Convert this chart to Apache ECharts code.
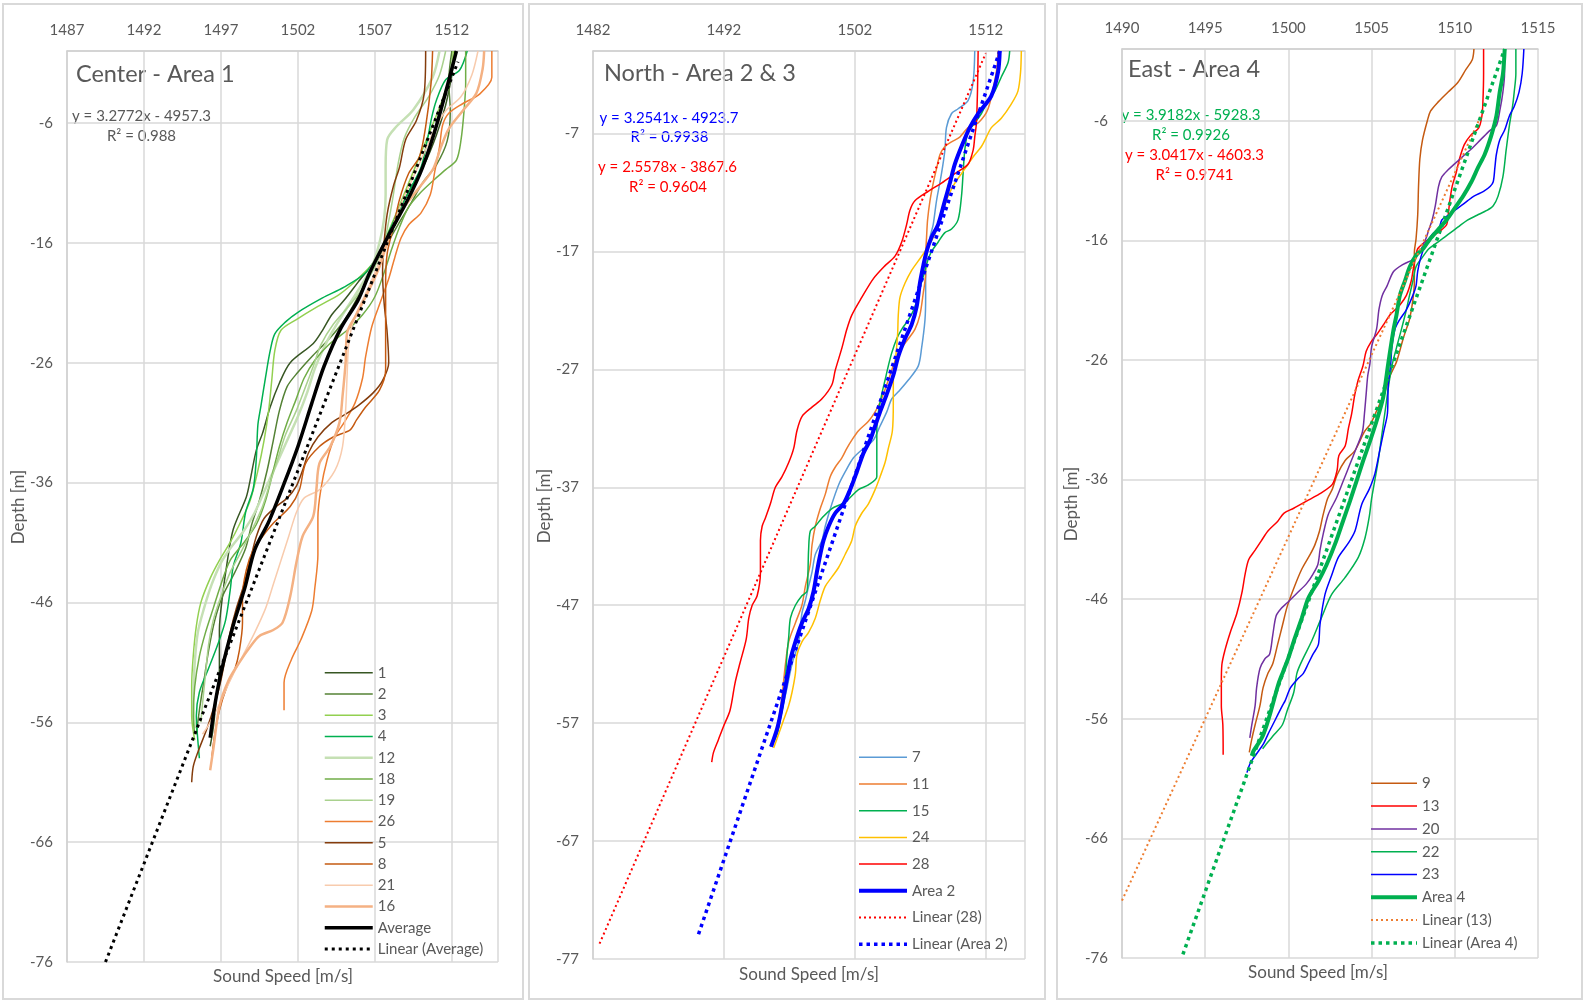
<!DOCTYPE html>
<html><head><meta charset="utf-8">
<script src="https://cdn.jsdelivr.net/npm/echarts@6/dist/echarts.min.js"></script>
<style>html,body{margin:0;padding:0;background:#fff}#c{width:1585px;height:1002px}</style>
</head><body><div id="c"></div>
<script>
// ---------- axis ranges [min, max, interval] ----------
const p1X = [1487, 1515, 5], p1Y = [-76, 0, 10];
const p2X = [1482, 1515, 10], p2Y = [-77, 0, 10];
const p3X = [1490, 1515, 5], p3Y = [-76, 0, 10];

// ---------- Panel 1 : Center - Area 1  ([speed, depth]) ----------
const c1 = [[1512.2,0],[1512.0,-2],[1511.6,-4.5],[1511.0,-7],[1510.2,-9.5],[1509.3,-11.5],[1508.5,-13.5],[1507.8,-15.5],[1507.0,-17.5],[1505.9,-19.3],[1505.0,-20.8],[1504.2,-22],[1503.6,-23.3],[1503.0,-24.4],[1501.5,-26],[1500.8,-27.7],[1500.2,-29.7],[1499.7,-31.9],[1499.3,-33.3],[1498.9,-35.8],[1498.65,-37.2],[1497.8,-39.9],[1497.4,-42.7],[1497.1,-45.5],[1496.9,-48.3],[1496.9,-51.6],[1496.7,-54],[1496.5,-56.5],[1496.3,-58]];
const c2 = [[1512.0,0],[1511.8,-2.5],[1511.9,-5],[1511.7,-7.5],[1511.0,-9.5],[1510.1,-11],[1509.3,-12.8],[1508.5,-14.5],[1507.6,-16.5],[1506.7,-18.5],[1505.9,-20.5],[1505.0,-22.5],[1503.9,-24.2],[1502.9,-25.5],[1502.0,-26.8],[1501.3,-28],[1500.8,-30],[1500.4,-32.5],[1500.0,-35],[1499.5,-37.5],[1499.0,-39.5],[1498.6,-41.5],[1497.9,-43.5],[1497.1,-45.5],[1496.6,-47.5],[1496.2,-50],[1495.9,-52.5],[1495.6,-55],[1495.4,-57]];
const c3 = [[1512.1,0],[1511.9,-2],[1511.4,-4],[1510.8,-6],[1510.0,-8.5],[1509.2,-11],[1508.5,-13.2],[1507.8,-15.3],[1507.0,-17.5],[1505.9,-19],[1504.7,-20.3],[1503.3,-21.3],[1501.9,-22.4],[1500.9,-23.3],[1500.5,-25],[1500.3,-27.5],[1500.1,-30],[1499.8,-32.5],[1499.4,-35],[1498.9,-37.5],[1498.2,-39.5],[1497.6,-41],[1496.9,-42.5],[1496.3,-44],[1495.7,-46],[1495.4,-48],[1495.2,-50.5],[1495.1,-53],[1495.1,-55.5],[1495.3,-57.5]];
const c4 = [[1513.0,0],[1512.5,-1.6],[1511.6,-2.4],[1511.0,-4.1],[1510.7,-5.5],[1510.4,-7.5],[1510.0,-9.7],[1509.3,-11.5],[1508.5,-13.5],[1507.9,-15.1],[1507.3,-16.8],[1506.4,-18.5],[1505.0,-19.7],[1503.6,-20.6],[1502.0,-21.8],[1501.2,-22.6],[1500.5,-23.6],[1500.2,-25],[1499.9,-27.2],[1499.6,-29.6],[1499.4,-31.2],[1499.3,-34],[1499.1,-36.5],[1498.6,-38.5],[1498.3,-41],[1497.8,-43],[1497.6,-45],[1497.3,-47.5],[1496.8,-49.5],[1496.2,-51.5],[1495.6,-53.5],[1495.4,-55.5],[1495.5,-57.5],[1495.6,-59]];
const c12 = [[1511.2,0],[1510.75,-2.2],[1509.5,-4.9],[1508.4,-6.3],[1507.8,-7.4],[1507.7,-9.7],[1507.7,-12],[1507.6,-14],[1507.3,-16],[1506.8,-18],[1505.9,-20],[1505.0,-21.8],[1504.2,-23.5],[1503.6,-25],[1503.1,-26.5],[1502.6,-28.5],[1502.0,-30.5],[1501.3,-32.5],[1500.6,-34.5],[1499.9,-36.5],[1499.2,-38.5],[1498.5,-40],[1497.6,-41.5],[1497.0,-42.7],[1496.4,-44.5],[1495.9,-46.5],[1495.5,-48.5],[1495.3,-51],[1495.2,-54],[1495.3,-56.5]];
const c18 = [[1512.9,0],[1512.9,-2.7],[1512.8,-4.9],[1512.6,-7.4],[1512.3,-9.1],[1511.6,-9.9],[1510.8,-10.8],[1509.9,-11.9],[1509.2,-13],[1508.6,-14.7],[1508.1,-16.5],[1507.6,-18.5],[1507.0,-20.5],[1506.2,-22],[1505.2,-23.3],[1504.0,-24.5],[1503.1,-25.8],[1502.4,-27.3],[1501.9,-29],[1501.3,-31],[1500.8,-33],[1500.4,-35],[1499.9,-37.5],[1499.3,-39.5],[1498.5,-41],[1497.6,-42.5],[1497.0,-44.5],[1496.5,-46.5],[1496.0,-48.5],[1495.6,-50.5],[1495.3,-53],[1495.2,-55.5],[1495.3,-57]];
const c19 = [[1511.6,0],[1511.2,-2],[1510.5,-3.8],[1509.6,-5.5],[1508.9,-7.3],[1508.5,-9.5],[1508.2,-12],[1507.9,-14.2],[1507.6,-16],[1507.0,-18],[1506.2,-19.8],[1505.3,-21.3],[1504.3,-22.8],[1503.5,-24.5],[1503.0,-26.3],[1502.5,-28],[1501.9,-30],[1501.2,-32],[1500.7,-34],[1500.2,-36],[1499.7,-38],[1499.0,-40],[1498.3,-41.8],[1497.6,-43.5],[1497.0,-45.5],[1496.5,-47.5],[1496.2,-49.5],[1496.0,-52],[1495.8,-54.5],[1495.7,-56]];
const c26 = [[1514.6,0],[1514.6,-2.2],[1513.8,-3.6],[1512.7,-4.4],[1511.8,-5.2],[1511.4,-6.2],[1511.2,-8],[1510.9,-10],[1510.6,-12],[1510.0,-13.5],[1509.2,-14.5],[1508.7,-15.6],[1508.3,-17.2],[1507.9,-19],[1507.4,-20.8],[1506.8,-23],[1506.4,-25.5],[1506.2,-27.3],[1505.7,-29.4],[1505.0,-31],[1504.4,-32.2],[1503.9,-34.1],[1503.5,-36.5],[1503.3,-38.9],[1503.3,-42],[1503.1,-44.8],[1502.9,-46.7],[1502.2,-49.1],[1501.6,-50.7],[1501.1,-52.7],[1501.1,-55]];
const c5 = [[1510.3,0],[1510.2,-3.6],[1509.7,-5.8],[1509.0,-7.4],[1508.6,-9.7],[1508.2,-11.3],[1507.8,-13.6],[1507.6,-16],[1507.5,-18.5],[1507.6,-21],[1507.8,-23.5],[1507.9,-26],[1507.5,-27.5],[1506.9,-28.5],[1506.0,-29.5],[1505.1,-30.3],[1504.2,-31],[1503.3,-32.2],[1502.7,-33.5],[1502.3,-35],[1501.9,-36.3],[1501.3,-37.3],[1500.6,-38],[1499.8,-39],[1499.3,-40.5],[1498.9,-42.5],[1498.5,-44.5],[1498.0,-46.5],[1497.6,-48.5],[1497.3,-50.5],[1497.0,-52.5],[1496.6,-54.5],[1496.1,-56.5],[1495.5,-58.5],[1495.2,-59.7],[1495.1,-61]];
const c8 = [[1510.75,0],[1510.65,-2.7],[1510.3,-6.3],[1509.9,-8.8],[1509.2,-10.2],[1508.6,-12.4],[1508.2,-14.7],[1507.8,-16.9],[1507.7,-19.4],[1507.7,-24.1],[1507.7,-26.6],[1507.3,-28.3],[1506.4,-29.7],[1505.8,-30.8],[1505.4,-31.6],[1504.3,-32.2],[1503.4,-33],[1502.5,-34.4],[1502.1,-36.6],[1501.5,-38],[1500.4,-39.4],[1499.7,-40.5],[1499.1,-41.6],[1498.65,-43.3],[1498.4,-45.5],[1498.4,-47.7],[1498.2,-50],[1497.9,-51.6],[1497.4,-53],[1496.9,-55],[1496.6,-57],[1496.4,-59]];
const c21 = [[1513.7,0],[1513.3,-2],[1512.6,-3.8],[1511.6,-5],[1510.9,-6.5],[1510.2,-8.5],[1509.5,-10.5],[1508.8,-12.5],[1508.2,-14.5],[1507.6,-16.5],[1507.0,-18.5],[1506.3,-20.5],[1505.6,-22.5],[1505.3,-24.5],[1505.2,-27],[1505.1,-30],[1504.9,-33],[1504.4,-35],[1503.4,-36.6],[1502.4,-37.3],[1501.9,-38.5],[1501.4,-40.5],[1500.9,-42.5],[1500.4,-44.5],[1499.9,-46.5],[1499.2,-48.5],[1498.4,-50.5],[1497.6,-52.5],[1496.9,-54.5],[1496.3,-56],[1495.8,-57]];
const c16 = [[1514.1,0],[1514.0,-1.5],[1513.6,-3.5],[1512.7,-5],[1511.8,-6.5],[1511.3,-8],[1510.8,-9.8],[1510.0,-11.2],[1509.2,-12.5],[1508.4,-14],[1507.8,-16],[1507.3,-18],[1506.6,-20],[1505.8,-22],[1505.2,-23.5],[1505.1,-26],[1504.9,-28.8],[1504.7,-31],[1504.1,-33],[1503.4,-34.4],[1503.2,-36.6],[1503.0,-38.8],[1502.3,-40.5],[1501.9,-42.7],[1501.5,-45.5],[1501.0,-47.7],[1500.4,-48.3],[1499.5,-48.8],[1498.9,-49.7],[1498.2,-51],[1497.5,-52.5],[1496.9,-54.7],[1496.5,-58.3],[1496.3,-60]];
const cAvg = [[1512.3,0],[1511.05,-6],[1510.1,-9.7],[1509.1,-12.5],[1507.8,-15.6],[1506.7,-18.4],[1505.9,-20.8],[1504.8,-23.1],[1503.7,-26.3],[1502.9,-29.4],[1502.0,-33],[1501.1,-36.1],[1500.1,-39.3],[1499.2,-41.6],[1498.55,-44.8],[1497.8,-47.9],[1497.0,-51.9],[1496.6,-54.6],[1496.3,-57.3]];
const cAvgTrend = [[1489.5,-76],[1512.4,-0.9]];

// ---------- Panel 2 : North - Area 2 & 3 ----------
const n7 = [[1511.16,0],[1511.04,-2.6],[1510.65,-4.2],[1509.89,-4.9],[1509.39,-5.3],[1509.0,-6.5],[1508.88,-8.4],[1508.62,-10.4],[1508.24,-12.7],[1507.99,-14.7],[1507.74,-15.8],[1507.56,-17],[1507.41,-18.2],[1507.41,-20.9],[1507.36,-22.8],[1507.1,-25.2],[1506.85,-26.7],[1506.09,-27.9],[1505.32,-28.9],[1504.82,-29.5],[1504.44,-30.6],[1503.93,-31.8],[1503.42,-33],[1502.66,-33.7],[1501.9,-34.5],[1501.26,-35.7],[1500.76,-36.8],[1500.25,-38.4],[1499.74,-40.3],[1499.49,-41.5],[1498.98,-42.7],[1498.73,-44.2],[1498.47,-45.4],[1498.22,-46.6],[1497.96,-47.7],[1497.71,-50.1],[1497.2,-52],[1496.82,-54],[1496.44,-55.9],[1496.06,-57.9],[1495.8,-58.6]];
const n11 = [[1512.94,0],[1512.81,-1.8],[1512.18,-4.9],[1511.42,-6.1],[1510.65,-6.5],[1510.02,-7.3],[1509.39,-7.7],[1508.88,-8.1],[1508.5,-8.8],[1508.24,-10],[1507.99,-11.2],[1507.74,-12.7],[1507.56,-14.3],[1507.48,-15.8],[1507.41,-17.4],[1507.41,-18.9],[1507.23,-20.5],[1506.97,-22.4],[1506.59,-23.6],[1506.09,-24.4],[1505.58,-25.2],[1505.07,-26.3],[1504.69,-27.5],[1504.31,-28.7],[1503.93,-29.8],[1503.55,-30.6],[1503.04,-31.4],[1502.28,-32.2],[1501.77,-33],[1501.39,-33.7],[1501.01,-34.5],[1500.5,-35.3],[1500.12,-36.1],[1499.74,-37.6],[1499.36,-38.8],[1498.98,-40.3],[1498.73,-41.9],[1498.6,-43.5],[1498.22,-45.4],[1497.96,-47],[1497.46,-48.5],[1496.95,-50.1],[1496.7,-52],[1496.44,-54.7],[1496.19,-56.7],[1495.93,-58.2]];
const n15 = [[1513.83,0],[1513.7,-1],[1513.19,-2.2],[1512.69,-3.4],[1512.18,-4.2],[1511.67,-5.3],[1511.16,-6.1],[1510.65,-6.9],[1510.4,-8.4],[1510.27,-10.4],[1510.15,-12.3],[1509.89,-14.3],[1509.39,-15.1],[1508.88,-15.4],[1508.37,-16.2],[1507.86,-17],[1507.56,-17.8],[1507.36,-18.6],[1506.97,-20.1],[1506.59,-21.7],[1506.09,-22.8],[1505.58,-23.6],[1505.2,-24.4],[1504.82,-25.6],[1504.56,-26.7],[1504.31,-27.9],[1504.06,-29.1],[1503.8,-30.6],[1503.68,-32.2],[1503.68,-34.5],[1503.68,-36.1],[1503.04,-36.8],[1502.28,-37.2],[1501.52,-38],[1501.01,-38.4],[1500.25,-38.8],[1499.49,-39.6],[1498.98,-40.3],[1498.6,-40.7],[1498.47,-42.3],[1498.42,-44.2],[1498.35,-45.8],[1497.96,-46.2],[1497.46,-47],[1497.08,-48.1],[1496.95,-49.7],[1496.82,-51.2],[1496.7,-53.2],[1496.57,-55.1],[1496.31,-56.7],[1496.06,-57.9],[1495.55,-59.0]];
const n24 = [[1514.72,0],[1514.66,-1.8],[1514.46,-3.4],[1513.95,-4.5],[1513.19,-5.7],[1512.43,-6.5],[1512.05,-7.3],[1511.67,-8.1],[1511.16,-8.8],[1510.65,-9.6],[1510.15,-10.4],[1509.64,-11.2],[1509.13,-12.3],[1508.75,-13.5],[1508.37,-14.7],[1507.99,-15.8],[1507.36,-17],[1506.85,-17.8],[1506.34,-18.6],[1505.83,-19.7],[1505.45,-20.9],[1505.32,-22.4],[1505.27,-24],[1505.12,-26],[1504.94,-27.5],[1504.94,-29.8],[1504.87,-32.2],[1504.56,-33.7],[1504.31,-34.9],[1503.93,-36.1],[1503.55,-37.2],[1503.04,-38.4],[1502.53,-39.2],[1502.03,-40.3],[1501.77,-41.5],[1501.26,-42.7],[1500.76,-43.8],[1500.25,-44.6],[1499.74,-45.4],[1499.36,-46.6],[1498.98,-48.1],[1498.47,-49.3],[1497.96,-50.1],[1497.58,-51.2],[1497.46,-52.8],[1497.2,-54.4],[1496.95,-55.5],[1496.57,-56.7],[1496.19,-57.9],[1495.8,-59.1]];
const n28 = [[1511.42,0],[1511.37,-3.4],[1511.29,-6.1],[1511.16,-7.3],[1511.04,-8.4],[1510.65,-9.6],[1509.64,-10.4],[1508.62,-11.2],[1507.61,-11.9],[1506.59,-12.7],[1506.21,-13.5],[1505.96,-14.7],[1505.58,-16.2],[1505.07,-17.4],[1504.31,-18.2],[1503.42,-19.3],[1502.53,-20.9],[1501.77,-22.4],[1501.39,-23.6],[1501.01,-25.2],[1500.5,-27.1],[1500.25,-28.3],[1499.49,-29.5],[1498.73,-30.2],[1497.96,-31],[1497.58,-32.2],[1497.33,-33.7],[1496.95,-34.9],[1496.44,-36.1],[1495.93,-37],[1495.55,-38.4],[1495.17,-39.6],[1494.92,-40.3],[1494.79,-41.5],[1494.79,-44.2],[1494.54,-46.2],[1494.16,-47],[1493.9,-48.1],[1493.7,-49.9],[1493.23,-51.9],[1492.85,-53.6],[1492.47,-55.9],[1491.96,-57.3],[1491.58,-58.4],[1491.2,-59.5],[1491.07,-60.3]];
const nArea2 = [[1513.07,0],[1512.94,-1.8],[1512.43,-3.8],[1511.42,-5.3],[1510.78,-6.5],[1510.15,-8.1],[1509.64,-9.6],[1509.26,-11.2],[1508.88,-12.7],[1508.37,-14.7],[1507.86,-15.8],[1507.48,-17],[1507.23,-18.2],[1506.97,-19.7],[1506.72,-21.7],[1506.34,-23.2],[1505.83,-24.4],[1505.32,-25.9],[1504.94,-27.5],[1504.44,-29.1],[1503.93,-30.6],[1503.55,-31.8],[1503.17,-33],[1502.66,-34.1],[1502.15,-35.7],[1501.64,-37.2],[1501.14,-38.4],[1500.5,-39.2],[1500.0,-40.3],[1499.61,-41.5],[1499.36,-42.7],[1499.1,-44.2],[1498.85,-45.8],[1498.47,-47.3],[1497.96,-48.5],[1497.46,-50.1],[1497.08,-51.6],[1496.82,-53.2],[1496.57,-54.7],[1496.31,-56.3],[1496.06,-57.5],[1495.6,-59.0]];
const n28Trend = [[1482.5,-75.7],[1512.0,-0.2]];
const nArea2Trend = [[1490.06,-74.9],[1513.08,0]];

// ---------- Panel 3 : East - Area 4 ----------
const e9 = [[1511.15,0],[1511.05,-0.9],[1510.67,-1.7],[1510.18,-2.8],[1509.6,-3.6],[1509.02,-4.4],[1508.54,-5.2],[1508.35,-6],[1508.06,-7.6],[1507.9,-9.2],[1507.82,-11.5],[1507.77,-13.9],[1507.67,-15.9],[1507.57,-17],[1507.57,-19.4],[1507.48,-21],[1507.28,-22.6],[1507.09,-23.4],[1506.9,-24.2],[1506.51,-26.1],[1506.12,-27.3],[1505.74,-28.9],[1505.35,-30.1],[1504.96,-31.3],[1504.57,-32],[1503.99,-33.6],[1503.41,-34.4],[1502.93,-35.6],[1502.64,-36.8],[1502.35,-37.6],[1502.06,-39.1],[1501.87,-40.3],[1501.58,-41.5],[1501.29,-42.3],[1500.8,-43.5],[1500.32,-45.1],[1499.93,-46.6],[1499.64,-48.2],[1499.35,-49.8],[1499.06,-51.4],[1498.77,-52.2],[1498.48,-53.4],[1498.29,-54.9],[1498.0,-56.5],[1497.8,-57.7],[1497.65,-58.8]];
const e13 = [[1511.73,0],[1511.73,-2.05],[1511.69,-4.4],[1511.63,-5.6],[1511.44,-6.6],[1510.96,-7.2],[1510.57,-8.0],[1510.28,-9.2],[1510.09,-10.3],[1509.84,-11.5],[1509.7,-12.7],[1509.6,-13.9],[1509.51,-14.7],[1509.22,-15.1],[1508.83,-15.5],[1508.44,-15.9],[1508.06,-16.3],[1507.77,-16.7],[1507.67,-17.2],[1507.48,-18.6],[1507.38,-19.4],[1507.09,-20.6],[1506.7,-21.4],[1506.12,-22.2],[1505.74,-23],[1505.35,-23.8],[1504.96,-24.5],[1504.67,-25.3],[1504.48,-26.5],[1504.19,-27.7],[1503.99,-28.9],[1503.8,-30.5],[1503.61,-31.7],[1503.41,-33.2],[1503.03,-34],[1502.93,-35.2],[1502.64,-36.4],[1501.87,-37.2],[1501.09,-37.8],[1500.32,-38.4],[1499.74,-38.8],[1499.35,-39.5],[1498.77,-40.3],[1498.38,-41.1],[1498.0,-41.9],[1497.61,-42.7],[1497.4,-43.9],[1497.2,-45.5],[1496.9,-47.2],[1496.5,-48.8],[1496.2,-50.2],[1496.0,-51.5],[1495.97,-53],[1495.97,-54.9],[1496.06,-56.5],[1496.08,-59.0]];
const e20 = [[1512.99,0],[1512.99,-2.05],[1512.89,-3.6],[1512.7,-5.2],[1512.5,-6.4],[1512.12,-6.8],[1511.54,-7.6],[1510.96,-8.4],[1510.47,-9],[1509.99,-9.6],[1509.6,-10.1],[1509.22,-10.7],[1509.02,-11.5],[1508.83,-13.1],[1508.64,-14.3],[1508.44,-15.1],[1508.25,-15.9],[1507.86,-17.0],[1507.48,-17.6],[1506.9,-18],[1506.32,-18.6],[1505.93,-19.8],[1505.64,-20.6],[1505.44,-21.8],[1505.3,-23.4],[1505.0,-24.9],[1504.9,-26.3],[1504.77,-27.3],[1504.67,-28.9],[1504.57,-30.5],[1504.45,-32],[1504.1,-33.3],[1503.7,-34.7],[1503.3,-36.1],[1502.9,-37.5],[1502.4,-38.9],[1502.1,-40.5],[1501.9,-41.9],[1501.77,-43.1],[1501.48,-43.9],[1501.09,-44.7],[1500.51,-45.5],[1499.93,-46.3],[1499.55,-46.8],[1499.26,-47.4],[1499.06,-49],[1498.87,-50.6],[1498.58,-51],[1498.29,-51.8],[1498.09,-53.4],[1498.0,-54.9],[1497.8,-56.5],[1497.68,-57.6]];
const e22 = [[1513.67,0],[1513.67,-2.05],[1513.57,-3.6],[1513.47,-4.8],[1513.28,-6.4],[1513.09,-8.4],[1512.89,-10.7],[1512.6,-12.3],[1512.31,-13.1],[1511.92,-13.5],[1511.34,-13.9],[1510.76,-14.3],[1510.18,-14.9],[1509.6,-15.5],[1509.22,-15.9],[1508.83,-16.3],[1508.44,-16.7],[1508.06,-17.4],[1507.67,-18.2],[1507.48,-19.4],[1507.28,-20.6],[1507.09,-21.8],[1506.8,-23.4],[1506.51,-24.9],[1506.22,-26.5],[1506.03,-28.1],[1505.83,-30.1],[1505.6,-32.4],[1505.4,-34.4],[1505.2,-36],[1505.0,-37.6],[1504.86,-39.1],[1504.6,-40.9],[1504.2,-42.5],[1503.4,-44.2],[1502.6,-45.6],[1502.0,-47.5],[1501.4,-49.5],[1500.8,-51.2],[1500.51,-52.2],[1500.32,-53.8],[1499.93,-55.3],[1499.64,-56.5],[1499.16,-57.3],[1498.67,-58.1],[1498.45,-58.5]];
const e23 = [[1514.15,0],[1514.05,-2.05],[1513.86,-3.6],[1513.57,-4.8],[1513.28,-5.6],[1512.99,-6.8],[1512.7,-7.6],[1512.5,-8.8],[1512.41,-9.9],[1512.31,-11.1],[1512.12,-11.5],[1511.73,-11.9],[1511.15,-12.3],[1510.76,-12.7],[1510.38,-13.1],[1509.99,-13.5],[1509.6,-13.9],[1509.22,-14.3],[1509.02,-15.1],[1508.64,-15.5],[1508.25,-16.3],[1507.96,-17.4],[1507.77,-18.6],[1507.67,-19.8],[1507.48,-20.6],[1507.09,-21.8],[1506.7,-22.6],[1506.41,-23.4],[1506.22,-24.9],[1506.15,-26.3],[1506.0,-28.1],[1505.95,-30.5],[1505.74,-31.9],[1505.5,-33.5],[1505.2,-35.5],[1504.86,-36.8],[1504.4,-38.1],[1504.0,-40.3],[1503.61,-41.3],[1503.0,-42.5],[1502.6,-44],[1502.2,-45.6],[1501.9,-48.1],[1501.8,-49.8],[1501.48,-50.6],[1501.19,-51.4],[1500.9,-52.2],[1500.61,-52.6],[1500.13,-53.4],[1499.8,-54.5],[1499.64,-54.9],[1499.35,-55.7],[1499.06,-56.5],[1498.77,-57.3],[1498.5,-58.1],[1498.1,-58.9],[1497.71,-59.7],[1497.51,-60.5]];
const eArea4 = [[1513.0,0],[1512.9,-2],[1512.7,-3.6],[1512.5,-5.6],[1512.2,-7.2],[1511.8,-8.8],[1511.4,-9.9],[1511.0,-11.1],[1510.5,-12.3],[1510.0,-13.3],[1509.5,-14.3],[1509.0,-15.1],[1508.5,-15.9],[1508.1,-16.7],[1507.7,-17.2],[1507.3,-18.2],[1507.0,-19.4],[1506.7,-20.6],[1506.5,-22.2],[1506.3,-23.6],[1506.0,-26.3],[1505.7,-29.1],[1505.3,-31.1],[1504.9,-32.8],[1504.5,-34.4],[1504.1,-36.1],[1503.7,-37.8],[1503.3,-39.4],[1502.8,-41.4],[1502.3,-43.1],[1501.8,-44.5],[1501.2,-45.9],[1500.8,-47.6],[1500.4,-49.2],[1500.0,-50.9],[1499.7,-52],[1499.4,-53.1],[1499.0,-55.1],[1498.7,-56.5],[1498.4,-57.6],[1497.9,-58.7],[1497.8,-59.1]];
const e13Trend = [[1490.0,-71.2],[1511.6,-5.5]];
const eArea4Trend = [[1493.66,-75.7],[1513.0,0]];

// ---------- legend order ----------
const legend1 = ['1','2','3','4','12','18','19','26','5','8','21','16','Average','Linear (Average)'];
const legend2 = ['7','11','15','24','28','Area 2','Linear (28)','Linear (Area 2)'];
const legend3 = ['9','13','20','22','23','Area 4','Linear (13)','Linear (Area 4)'];

const FONT = 'Lato, "Open Sans", sans-serif';
const GREY = '#595959';
const widths = {};

function L(name, data, color, width, g, extra) {
  widths[name] = width;
  return Object.assign({
    name, type: 'line', data, xAxisIndex: g, yAxisIndex: g,
    symbol: 'none', smooth: 0.3, animation: false,
    lineStyle: { color, width }, itemStyle: { color },
    emphasis: { disabled: true }
  }, extra || {});
}
function D(name, data, color, width, dash, g) {
  widths[name] = width;
  return {
    name, type: 'line', data, xAxisIndex: g, yAxisIndex: g, symbol: 'none',
    animation: false, lineStyle: { color, width, type: dash, cap: 'butt' },
    itemStyle: { color }, emphasis: { disabled: true }, z: 5
  };
}

const series = [
  L('1', c1, '#375623', 1.5, 0), L('2', c2, '#548235', 1.5, 0), L('3', c3, '#92d050', 1.5, 0),
  L('4', c4, '#00b050', 1.5, 0), L('12', c12, '#c5e0b4', 2.5, 0), L('18', c18, '#70ad47', 1.5, 0),
  L('19', c19, '#a9d18e', 1.5, 0), L('26', c26, '#ed7d31', 1.5, 0), L('5', c5, '#843c0c', 1.5, 0),
  L('8', c8, '#c55a11', 1.5, 0), L('21', c21, '#f8cbad', 1.5, 0), L('16', c16, '#f4b183', 2.5, 0),
  L('Average', cAvg, '#000000', 3.5, 0, { z: 4 }),
  D('Linear (Average)', cAvgTrend, '#000000', 3, [3, 4], 0),

  L('7', n7, '#5b9bd5', 1.5, 1), L('11', n11, '#ed7d31', 1.5, 1), L('15', n15, '#00b050', 1.5, 1),
  L('24', n24, '#ffc000', 1.5, 1), L('28', n28, '#ff0000', 1.5, 1),
  L('Area 2', nArea2, '#0000ff', 4, 1, { z: 4 }),
  D('Linear (28)', n28Trend, '#ff0000', 2, [2, 3], 1),
  D('Linear (Area 2)', nArea2Trend, '#0000ff', 3.5, [3.5, 4], 1),

  L('9', e9, '#c55a11', 1.5, 2), L('13', e13, '#ff0000', 1.5, 2), L('20', e20, '#7030a0', 1.5, 2),
  L('22', e22, '#00b050', 1.5, 2), L('23', e23, '#0000ff', 1.5, 2),
  L('Area 4', eArea4, '#00b050', 4, 2, { z: 4 }),
  D('Linear (13)', e13Trend, '#ed7d31', 2, [2, 3], 2),
  D('Linear (Area 4)', eArea4Trend, '#00b050', 3.5, [3.5, 4], 2)
];

const grids = [
  { left: 67, top: 51, width: 431, height: 911 },
  { left: 593, top: 51, width: 432, height: 908 },
  { left: 1122, top: 49, width: 416, height: 909 }
];
const xr = [p1X, p2X, p3X], yr = [p1Y, p2Y, p3Y];
const labelStyle = { color: GREY, fontSize: 15, fontFamily: FONT, formatter: v => String(v) };

const xAxis = xr.map((r, i) => ({
  type: 'value', gridIndex: i, position: 'top', min: r[0], max: r[1], interval: r[2],
  axisLine: { show: true, lineStyle: { color: '#d0d0d0', width: 1.5 } }, axisTick: { show: false },
  splitLine: { show: true, lineStyle: { color: '#d9d9d9', width: 1.5 } },
  axisLabel: Object.assign({ margin: 13, showMaxLabel: i === 2, showMinLabel: true }, labelStyle)
}));
const yAxis = yr.map((r, i) => ({
  type: 'value', gridIndex: i, min: r[0], max: r[1], interval: r[2],
  axisLine: { show: true, lineStyle: { color: '#d0d0d0', width: 1.5 } }, axisTick: { show: false },
  splitLine: { show: true, lineStyle: { color: '#d9d9d9', width: 1.5 } },
  axisLabel: Object.assign({ margin: 14, showMaxLabel: false, showMinLabel: true }, labelStyle)
}));

function leg(names, left, top, w, gap) {
  return {
    data: names.map(n => ({ name: n, lineStyle: { width: widths[n] } })),
    orient: 'vertical', left, top, itemWidth: w, itemHeight: 15, itemGap: gap,
    padding: 0, selectedMode: false,
    itemStyle: { opacity: 0, borderWidth: 0 },
    textStyle: { color: GREY, fontSize: 15, fontFamily: FONT, lineHeight: 15 }
  };
}

function TC(text, x, y, size, color) {
  return { type: 'text', x, y, silent: true,
    style: { text, fill: color || GREY, font: size + 'px ' + FONT, textVerticalAlign: 'middle', textAlign: 'center' } };
}
function T(text, x, y, size) {
  return { type: 'text', x, y, silent: true,
    style: { text, fill: GREY, font: size + 'px ' + FONT, textVerticalAlign: 'middle', textAlign: 'left' } };
}
function TR(text, x, y, size) {
  return { type: 'text', x, y, rotation: Math.PI / 2, silent: true,
    style: { text, fill: GREY, font: size + 'px ' + FONT, textVerticalAlign: 'middle', textAlign: 'center' } };
}
function box(x, y, w, h) {
  return { type: 'rect', shape: { x, y, width: w, height: h }, silent: true, z: -10,
    style: { fill: 'none', stroke: '#d9d9d9', lineWidth: 2 } };
}

const graphics = [
  box(3, 4, 520, 995), box(529, 4, 516, 995), box(1057, 4, 525, 995),
  T('Center - Area 1', 76, 74, 23.5),
  T('North - Area 2 & 3', 604, 73, 23.5),
  T('East - Area 4', 1128, 69, 23.5),
  TC('y = 3.2772x - 4957.3', 141.5, 116, 15), TC('R² = 0.988', 141.5, 136.5, 15),
  TC('y = 3.2541x - 4923.7', 669, 118, 15, '#0000ff'), TC('R² = 0.9938', 669.5, 137.5, 15, '#0000ff'),
  TC('y = 2.5578x - 3867.6', 667.5, 167.5, 15, '#ff0000'), TC('R² = 0.9604', 668, 187.5, 15, '#ff0000'),
  TC('y = 3.9182x - 5928.3', 1191, 115, 15, '#00b050'), TC('R² = 0.9926', 1191, 135, 15, '#00b050'),
  TC('y = 3.0417x - 4603.3', 1194.5, 155, 15, '#ff0000'), TC('R² = 0.9741', 1194.5, 175.5, 15, '#ff0000'),
  TC('Sound Speed [m/s]', 283, 977, 17), TC('Sound Speed [m/s]', 809, 975, 17), TC('Sound Speed [m/s]', 1318, 973, 17),
  TR('Depth [m]', 19, 507, 17), TR('Depth [m]', 545, 506, 17), TR('Depth [m]', 1072, 504, 17)
];

const chart = echarts.init(document.getElementById('c'), null, { renderer: 'canvas' });
chart.setOption({
  animation: false,
  backgroundColor: '#ffffff',
  textStyle: { fontFamily: FONT },
  grid: grids.map(g => Object.assign({ show: false, containLabel: false }, g)),
  xAxis, yAxis,
  legend: [
    leg(legend1, 323, 665.2, 48, 6.25),
    leg(legend2, 857, 749.8, 48, 11.7),
    leg(legend3, 1369, 775.8, 46, 7.8)
  ],
  graphic: { elements: graphics },
  series
});
</script></body></html>
